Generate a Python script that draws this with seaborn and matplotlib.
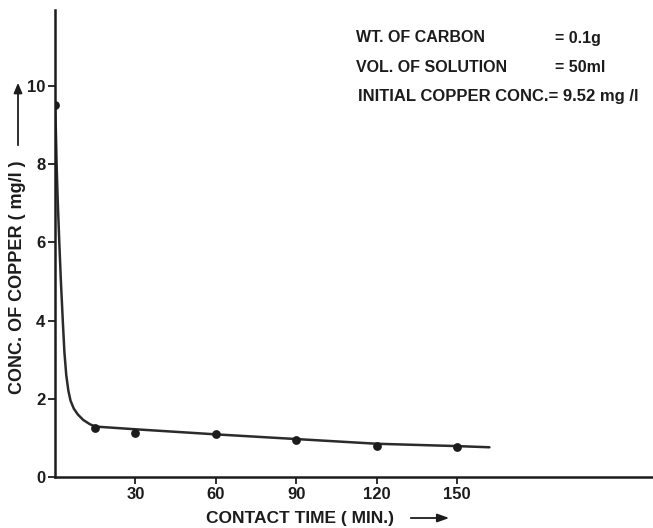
import matplotlib
matplotlib.use("Agg")
import matplotlib.pyplot as plt
import seaborn as sns
import pandas as pd

# measured residual copper concentration
time_min = [0, 15, 30, 60, 90, 120, 150]
conc_mg_l = [9.52, 1.25, 1.13, 1.10, 0.95, 0.80, 0.77]

# hand-drawn trend curve through the measurements
curve_t = [0, 0.3, 0.6, 1.0, 1.6, 2.2, 2.9, 3.5, 4.2, 5.0, 5.8, 7.0, 8.5, 10.5, 13, 15, 30, 60, 90, 120, 150, 162]
curve_c = [9.52, 8.9, 8.0, 7.1, 6.0, 5.0, 4.0, 3.2, 2.6, 2.2, 1.95, 1.75, 1.6, 1.46, 1.35, 1.29, 1.22, 1.09, 0.97, 0.85, 0.79, 0.76]

x_ticks = [30, 60, 90, 120, 150]
y_ticks = [0, 2, 4, 6, 8, 10]

info_labels = ["WT. OF CARBON", "VOL. OF SOLUTION"]
info_values = ["= 0.1g", "= 50ml"]
info_last = "INITIAL COPPER CONC.= 9.52 mg /l"

sns.set_style("ticks")
plt.rcParams["font.family"] = ["Liberation Sans", "DejaVu Sans"]
plt.rcParams["font.weight"] = "bold"
narrow = ["Liberation Sans Narrow", "Liberation Sans", "DejaVu Sans"]

ink = "#1c1c1c"
W, H = 653, 528
fig = plt.figure(figsize=(W / 100, H / 100), dpi=100)
ax = fig.add_axes([55 / W, 1 - 477 / H, 1 - 55 / W, (477 - 10) / H])

df_curve = pd.DataFrame({"t": curve_t, "c": curve_c})
df_pts = pd.DataFrame({"t": time_min, "c": conc_mg_l})
sns.lineplot(data=df_curve, x="t", y="c", ax=ax, color="#2b2b2b", lw=1.8,
             sort=False, estimator=None)
sns.scatterplot(data=df_pts, x="t", y="c", ax=ax, color=ink, s=40,
                edgecolor=ink, linewidth=0, zorder=5)

ax.set_xlim(0, 223)
ax.set_ylim(0, 11.94)
ax.set_xticks(x_ticks)
ax.set_yticks(y_ticks)
ax.set_xlabel("")
ax.set_ylabel("")
for s in ["top", "right"]:
    ax.spines[s].set_visible(False)
for s in ["left", "bottom"]:
    ax.spines[s].set_linewidth(1.8)
    ax.spines[s].set_color(ink)
ax.tick_params(axis="both", direction="out", length=5, width=1.3, colors=ink,
               pad=2)
for lab in ax.get_xticklabels() + ax.get_yticklabels():
    lab.set_family(narrow)
    lab.set_fontsize(12)
    lab.set_fontweight("bold")
    lab.set_color(ink)

# axis titles with direction arrows
fig.text(18 / W, 1 - 277 / H, "CONC. OF COPPER ( mg/l )", rotation=90,
         ha="center", va="center", fontsize=13, fontweight="bold", color=ink)
fig.add_artist(matplotlib.patches.FancyArrowPatch(
    (18 / W, 1 - 148 / H), (18 / W, 1 - 80 / H), transform=fig.transFigure,
    arrowstyle="-|>,head_length=6,head_width=2.5", color=ink, lw=1.3))
fig.text(300 / W, 1 - 518 / H, "CONTACT TIME ( MIN.)", ha="center",
         va="center", fontsize=12.5, fontweight="bold", color=ink)
fig.add_artist(matplotlib.patches.FancyArrowPatch(
    (408 / W, 1 - 518 / H), (452 / W, 1 - 518 / H), transform=fig.transFigure,
    arrowstyle="-|>,head_length=7,head_width=2.5", color=ink, lw=1.3))

# experimental conditions
for i, (lab, val) in enumerate(zip(info_labels, info_values)):
    y = 1 - (38 + 30 * i) / H
    fig.text(356 / W, y, lab, ha="left", va="center", fontsize=11.5,
             fontweight="bold", color=ink)
    fig.text(555 / W, y, val, ha="left", va="center", fontsize=11.5,
             fontweight="bold", color=ink)
fig.text(358 / W, 1 - 97 / H, info_last, ha="left", va="center",
         fontsize=12, fontweight="bold", color=ink)

fig.savefig("out.png", dpi=100, facecolor="white")
